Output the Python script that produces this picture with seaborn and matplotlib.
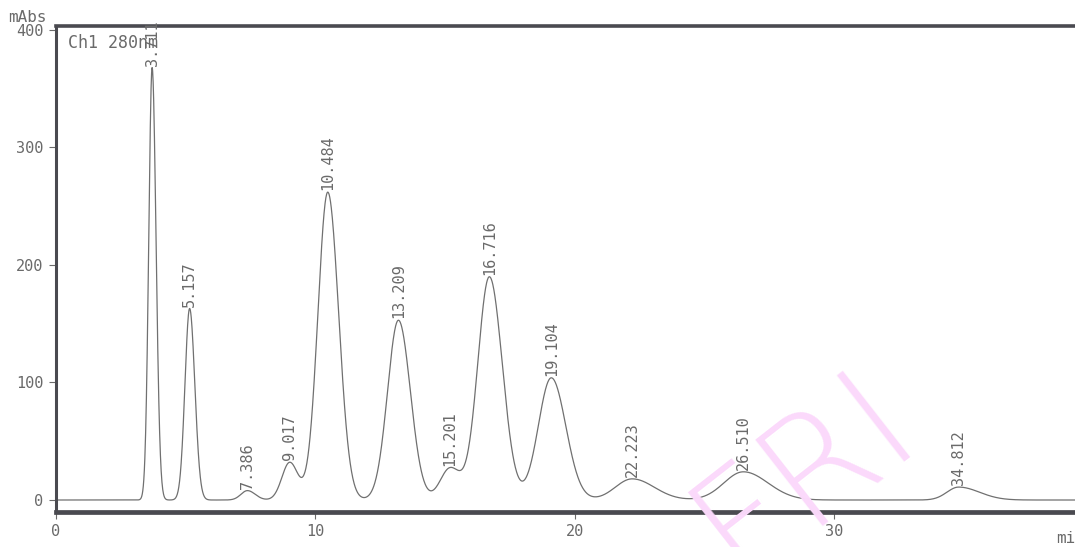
import numpy as np
import pandas as pd
import matplotlib
matplotlib.use("Agg")
import matplotlib.pyplot as plt
import seaborn as sns

# Peak table for channel 1 (280 nm)
retention_min = [3.711, 5.157, 7.386, 9.017, 10.484, 13.209, 15.201, 16.716, 19.104, 22.223, 26.510, 34.812]
peak_height = [368, 163, 8, 32, 262, 153, 27, 190, 104, 18, 24, 11]
sigma_front = [0.13, 0.18, 0.25, 0.30, 0.38, 0.42, 0.38, 0.45, 0.50, 0.65, 0.75, 0.45]
sigma_tail = [0.15, 0.20, 0.30, 0.32, 0.42, 0.46, 0.40, 0.50, 0.56, 0.85, 0.95, 0.80]
peak_labels = ["3.711", "5.157", "7.386", "9.017", "10.484", "13.209", "15.201",
               "16.716", "19.104", "22.223", "26.510", "34.812"]

x_ticks = [0, 10, 20, 30]
y_ticks = [0, 100, 200, 300, 400]

# Build the detector trace from the peak table (asymmetric Gaussian peaks)
t = np.linspace(0, 40, 4001)
signal = np.zeros_like(t)
for rt, h, sf, st in zip(retention_min, peak_height, sigma_front, sigma_tail):
    s = np.where(t < rt, sf, st)
    signal += h * np.exp(-0.5 * ((t - rt) / s) ** 2)
trace = pd.DataFrame({"time": t, "absorbance": signal})

sns.set_theme(style="white")
plt.rcParams["font.family"] = ["DejaVu Sans Mono", "DejaVu Sans"]

ink = "#6a6a6a"
frame = "#4a4a50"

fig = plt.figure(figsize=(10.75, 5.47), dpi=100)
ax = fig.add_axes([0.052, 0.064, 0.948, 0.8885])

# Laboratory watermark (behind the trace)
fig.text(0.748, 0.135, "FRI", rotation=38, ha="center", va="center",
         fontsize=108, color="#fbd9fb", family="DejaVu Sans", fontweight=200,
         zorder=0)
ax.patch.set_alpha(0)

sns.lineplot(data=trace, x="time", y="absorbance", ax=ax, color="#707070",
             linewidth=0.9, estimator=None)

ax.set_xlim(0, 39.3)
ax.set_ylim(-10.2, 403.4)
ax.set_xticks(x_ticks)
ax.set_yticks(y_ticks)
ax.set_xlabel("")
ax.set_ylabel("")
ax.tick_params(axis="both", colors=ink, labelsize=11, length=5, width=0.8,
               direction="out", labelcolor=ink)
ax.tick_params(axis="x", pad=4, bottom=True)
ax.tick_params(axis="y", pad=4, left=True)

for side in ("left", "top", "bottom"):
    ax.spines[side].set_visible(True)
    ax.spines[side].set_color(frame)
ax.spines["left"].set_linewidth(2.2)
ax.spines["top"].set_linewidth(2.6)
ax.spines["bottom"].set_linewidth(3.4)
ax.spines["right"].set_visible(False)

# Retention-time labels above each peak
for rt, h, lab in zip(retention_min, peak_height, peak_labels):
    y_top = np.interp(rt, t, signal)
    ax.text(rt, y_top + 1.5, lab, rotation=90, ha="center", va="bottom",
            fontsize=11, color=ink, clip_on=False)

ax.text(0.012, 0.965, "Ch1 280nm", transform=ax.transAxes, ha="left",
        va="center", fontsize=12, color=ink)
fig.text(0.008, 0.968, "mAbs", ha="left", va="center", fontsize=11.5, color=ink)
fig.text(0.982, 0.015, "min", ha="left", va="center", fontsize=11.5, color=ink)

fig.savefig("out.png", dpi=100, facecolor="white")
